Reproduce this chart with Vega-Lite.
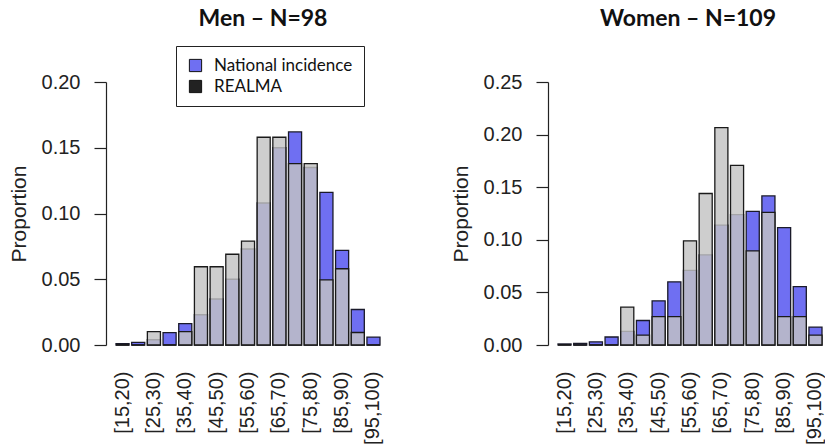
{
  "$schema": "https://vega.github.io/schema/vega-lite/v6.json",
  "padding": {"left": 8, "top": 8, "right": 0, "bottom": 0},
  "background": "white",
  "spacing": 67,
  "config": {
    "view": {"stroke": null},
    "axis": {"labelFont": "Liberation Sans", "titleFont": "Liberation Sans", "labelColor": "#222", "titleColor": "#222", "grid": false},
    "title": {"font": "Lato", "fontWeight": "bold", "fontSize": 23, "color": "#111"}
  },
  "datasets": {
    "hist": [
      {"sex": "Men", "age": "[15,20)", "source": "National incidence", "value": 0.001},
      {"sex": "Men", "age": "[20,25)", "source": "National incidence", "value": 0.002},
      {"sex": "Men", "age": "[25,30)", "source": "National incidence", "value": 0.004},
      {"sex": "Men", "age": "[30,35)", "source": "National incidence", "value": 0.0094},
      {"sex": "Men", "age": "[35,40)", "source": "National incidence", "value": 0.0163},
      {"sex": "Men", "age": "[40,45)", "source": "National incidence", "value": 0.023},
      {"sex": "Men", "age": "[45,50)", "source": "National incidence", "value": 0.035},
      {"sex": "Men", "age": "[50,55)", "source": "National incidence", "value": 0.05},
      {"sex": "Men", "age": "[55,60)", "source": "National incidence", "value": 0.073},
      {"sex": "Men", "age": "[60,65)", "source": "National incidence", "value": 0.108},
      {"sex": "Men", "age": "[65,70)", "source": "National incidence", "value": 0.15},
      {"sex": "Men", "age": "[70,75)", "source": "National incidence", "value": 0.162},
      {"sex": "Men", "age": "[75,80)", "source": "National incidence", "value": 0.135},
      {"sex": "Men", "age": "[80,85)", "source": "National incidence", "value": 0.116},
      {"sex": "Men", "age": "[85,90)", "source": "National incidence", "value": 0.072},
      {"sex": "Men", "age": "[90,95)", "source": "National incidence", "value": 0.027},
      {"sex": "Men", "age": "[95,100)", "source": "National incidence", "value": 0.006},
      {"sex": "Men", "age": "[15,20)", "source": "REALMA", "value": 0},
      {"sex": "Men", "age": "[20,25)", "source": "REALMA", "value": 0},
      {"sex": "Men", "age": "[25,30)", "source": "REALMA", "value": 0.0102},
      {"sex": "Men", "age": "[30,35)", "source": "REALMA", "value": 0},
      {"sex": "Men", "age": "[35,40)", "source": "REALMA", "value": 0.0102},
      {"sex": "Men", "age": "[40,45)", "source": "REALMA", "value": 0.0595},
      {"sex": "Men", "age": "[45,50)", "source": "REALMA", "value": 0.0595},
      {"sex": "Men", "age": "[50,55)", "source": "REALMA", "value": 0.069},
      {"sex": "Men", "age": "[55,60)", "source": "REALMA", "value": 0.079},
      {"sex": "Men", "age": "[60,65)", "source": "REALMA", "value": 0.158},
      {"sex": "Men", "age": "[65,70)", "source": "REALMA", "value": 0.158},
      {"sex": "Men", "age": "[70,75)", "source": "REALMA", "value": 0.138},
      {"sex": "Men", "age": "[75,80)", "source": "REALMA", "value": 0.138},
      {"sex": "Men", "age": "[80,85)", "source": "REALMA", "value": 0.0495},
      {"sex": "Men", "age": "[85,90)", "source": "REALMA", "value": 0.058},
      {"sex": "Men", "age": "[90,95)", "source": "REALMA", "value": 0.0095},
      {"sex": "Men", "age": "[95,100)", "source": "REALMA", "value": 0},
      {"sex": "Women", "age": "[15,20)", "source": "National incidence", "value": 0.001},
      {"sex": "Women", "age": "[20,25)", "source": "National incidence", "value": 0.0015},
      {"sex": "Women", "age": "[25,30)", "source": "National incidence", "value": 0.003},
      {"sex": "Women", "age": "[30,35)", "source": "National incidence", "value": 0.0076},
      {"sex": "Women", "age": "[35,40)", "source": "National incidence", "value": 0.013},
      {"sex": "Women", "age": "[40,45)", "source": "National incidence", "value": 0.0233},
      {"sex": "Women", "age": "[45,50)", "source": "National incidence", "value": 0.042},
      {"sex": "Women", "age": "[50,55)", "source": "National incidence", "value": 0.06},
      {"sex": "Women", "age": "[55,60)", "source": "National incidence", "value": 0.071},
      {"sex": "Women", "age": "[60,65)", "source": "National incidence", "value": 0.0857},
      {"sex": "Women", "age": "[65,70)", "source": "National incidence", "value": 0.114},
      {"sex": "Women", "age": "[70,75)", "source": "National incidence", "value": 0.124},
      {"sex": "Women", "age": "[75,80)", "source": "National incidence", "value": 0.127},
      {"sex": "Women", "age": "[80,85)", "source": "National incidence", "value": 0.1417},
      {"sex": "Women", "age": "[85,90)", "source": "National incidence", "value": 0.1115},
      {"sex": "Women", "age": "[90,95)", "source": "National incidence", "value": 0.0554},
      {"sex": "Women", "age": "[95,100)", "source": "National incidence", "value": 0.017},
      {"sex": "Women", "age": "[15,20)", "source": "REALMA", "value": 0},
      {"sex": "Women", "age": "[20,25)", "source": "REALMA", "value": 0},
      {"sex": "Women", "age": "[25,30)", "source": "REALMA", "value": 0},
      {"sex": "Women", "age": "[30,35)", "source": "REALMA", "value": 0},
      {"sex": "Women", "age": "[35,40)", "source": "REALMA", "value": 0.036},
      {"sex": "Women", "age": "[40,45)", "source": "REALMA", "value": 0.0094},
      {"sex": "Women", "age": "[45,50)", "source": "REALMA", "value": 0.027},
      {"sex": "Women", "age": "[50,55)", "source": "REALMA", "value": 0.027},
      {"sex": "Women", "age": "[55,60)", "source": "REALMA", "value": 0.099},
      {"sex": "Women", "age": "[60,65)", "source": "REALMA", "value": 0.144},
      {"sex": "Women", "age": "[65,70)", "source": "REALMA", "value": 0.2066},
      {"sex": "Women", "age": "[70,75)", "source": "REALMA", "value": 0.1707},
      {"sex": "Women", "age": "[75,80)", "source": "REALMA", "value": 0.0894},
      {"sex": "Women", "age": "[80,85)", "source": "REALMA", "value": 0.126},
      {"sex": "Women", "age": "[85,90)", "source": "REALMA", "value": 0.027},
      {"sex": "Women", "age": "[90,95)", "source": "REALMA", "value": 0.027},
      {"sex": "Women", "age": "[95,100)", "source": "REALMA", "value": 0.0094}
    ]
  },
  "hconcat": [
    {
      "width": 264,
      "height": 263,
      "title": {"text": "Men – N=98", "dx": 15, "offset": 41},
      "data": {"name": "hist"},
      "transform": [{"filter": "datum.sex === 'Men'"}],
      "encoding": {
        "x": {
          "field": "age", "type": "nominal", "sort": null,
          "scale": {"paddingInner": 0.167, "paddingOuter": 0},
          "axis": {"title": null, "domain": false, "ticks": false, "labelAngle": -90, "labelFontSize": 20, "labelPadding": 26,
            "values": ["[15,20)", "[25,30)", "[35,40)", "[45,50)", "[55,60)", "[65,70)", "[75,80)", "[85,90)", "[95,100)"]}
        },
        "y": {
          "field": "value", "type": "quantitative",
          "scale": {"domain": [0, 0.2], "nice": false},
          "axis": {"title": "Proportion", "titleFontSize": 21, "titleFontWeight": "normal", "titlePadding": 12, "labelFontSize": 20, "labelPadding": 14, "tickSize": 12, "offset": 10,
            "values": [0, 0.05, 0.1, 0.15, 0.2], "format": ".2f", "domainColor": "#222", "tickColor": "#222", "domainWidth": 1.2, "tickWidth": 1.2}
        }
      },
      "layer": [
        {
          "transform": [{"filter": "datum.source === 'National incidence'"}],
          "mark": {"type": "bar", "fill": "#6f6ff2", "stroke": "#1a1a2a", "strokeWidth": 1.3}
        },
        {
          "transform": [{"filter": "datum.source === 'REALMA'"}],
          "mark": {"type": "bar", "fill": "#c3c3c3", "fillOpacity": 0.82, "stroke": "#1a1a1a", "strokeWidth": 1.3}
        },
        {
          "mark": {"type": "point", "shape": "square", "filled": true, "opacity": 0},
          "encoding": {
            "color": {
              "field": "source", "type": "nominal",
              "scale": {"domain": ["National incidence", "REALMA"], "range": ["#6f6ff2", "#222222"]},
              "legend": {"title": null, "orient": "none", "legendX": 60, "legendY": -36, "strokeColor": "#222", "padding": 11,
                "symbolType": "square", "symbolSize": 150, "symbolOpacity": 1, "symbolStrokeColor": "#111", "symbolStrokeWidth": 1,
                "labelFont": "Lato", "labelFontSize": 17, "labelColor": "#111", "labelOffset": 10, "rowPadding": 3}
            }
          }
        }
      ]
    },
    {
      "width": 264,
      "height": 263,
      "title": {"text": "Women – N=109", "dx": -2, "offset": 41},
      "data": {"name": "hist"},
      "transform": [{"filter": "datum.sex === 'Women'"}],
      "encoding": {
        "x": {
          "field": "age", "type": "nominal", "sort": null,
          "scale": {"paddingInner": 0.167, "paddingOuter": 0},
          "axis": {"title": null, "domain": false, "ticks": false, "labelAngle": -90, "labelFontSize": 20, "labelPadding": 26,
            "values": ["[15,20)", "[25,30)", "[35,40)", "[45,50)", "[55,60)", "[65,70)", "[75,80)", "[85,90)", "[95,100)"]}
        },
        "y": {
          "field": "value", "type": "quantitative",
          "scale": {"domain": [0, 0.25], "nice": false},
          "axis": {"title": "Proportion", "titleFontSize": 21, "titleFontWeight": "normal", "titlePadding": 12, "labelFontSize": 20, "labelPadding": 14, "tickSize": 12, "offset": 10,
            "values": [0, 0.05, 0.1, 0.15, 0.2, 0.25], "format": ".2f", "domainColor": "#222", "tickColor": "#222", "domainWidth": 1.2, "tickWidth": 1.2}
        }
      },
      "layer": [
        {
          "transform": [{"filter": "datum.source === 'National incidence'"}],
          "mark": {"type": "bar", "fill": "#6f6ff2", "stroke": "#1a1a2a", "strokeWidth": 1.3}
        },
        {
          "transform": [{"filter": "datum.source === 'REALMA'"}],
          "mark": {"type": "bar", "fill": "#c3c3c3", "fillOpacity": 0.82, "stroke": "#1a1a1a", "strokeWidth": 1.3}
        }
      ]
    }
  ]
}
